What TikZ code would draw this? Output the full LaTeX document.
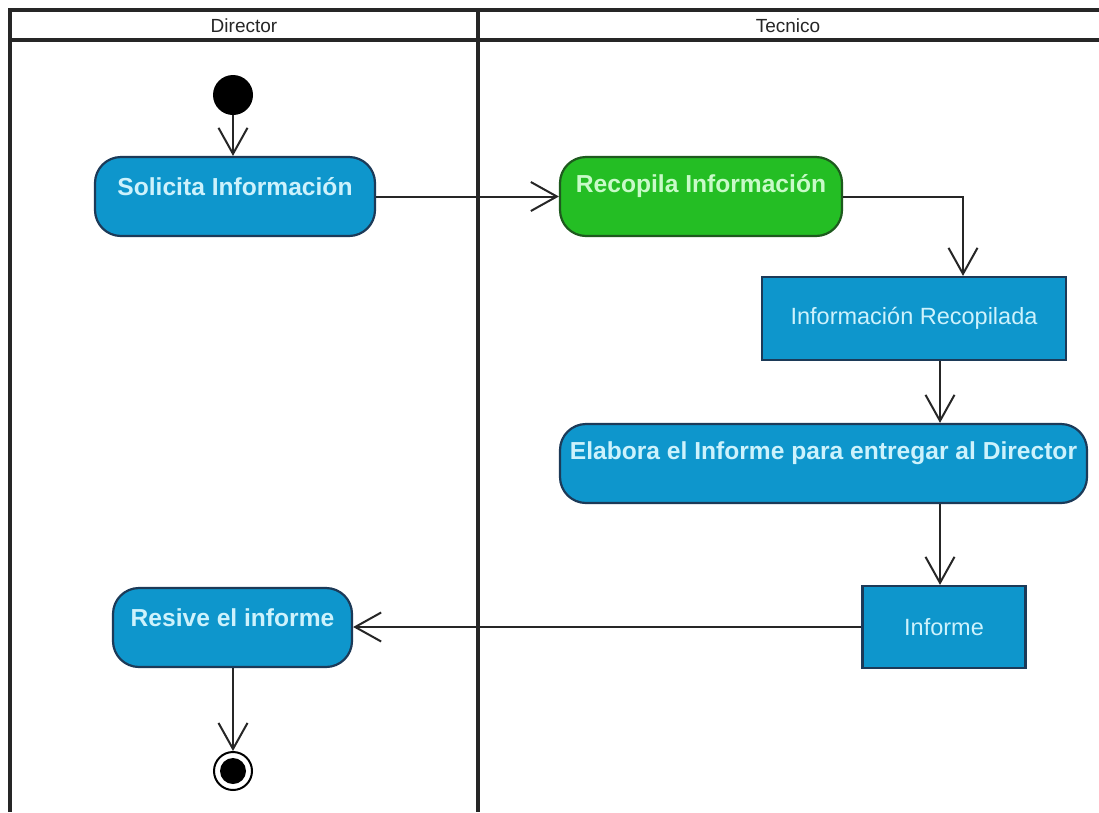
\documentclass[tikz,border=0pt]{standalone}
\usepackage{fontspec}
\setmainfont{Liberation Sans}
\usetikzlibrary{arrows.meta}

\definecolor{actblue}{RGB}{14,150,204}
\definecolor{actgreen}{RGB}{36,190,36}
\definecolor{blueedge}{RGB}{28,58,88}
\definecolor{greenedge}{RGB}{30,90,30}
\definecolor{bluetext}{RGB}{205,242,252}
\definecolor{greentext}{RGB}{200,250,200}

% label set higher inside its box, keeping the natural box size
\newcommand{\liftlabel}[1]{\raisebox{10pt}[\height][\depth]{#1}}

\begin{document}
\begin{tikzpicture}[x=1pt,y=-1pt,
  lane/.style={line width=3.4pt, black!85},
  lanetitle/.style={font=\fontsize{19}{22}\selectfont, text=black!85, inner sep=0pt},
  action/.style={rounded corners=26pt, draw=blueedge, line width=2.2pt, fill=actblue,
    text=bluetext, font=\bfseries\fontsize{24.6}{28}\selectfont, minimum height=79pt, inner sep=0pt},
  greenaction/.style={action, draw=greenedge, fill=actgreen, text=greentext},
  objectbox/.style={rectangle, draw=blueedge, line width=2.2pt, fill=actblue,
    text=bluetext, font=\fontsize{23.5}{28}\selectfont, inner sep=0pt},
  initial/.style={circle, fill=black, minimum size=40pt, inner sep=0pt},
  final/.style={circle, draw=black, line width=2pt, fill=white, minimum size=38pt, inner sep=0pt,
    path picture={\fill[black] (path picture bounding box.center) circle (13pt);}},
  flow/.style={line width=2pt, black!85, -{Straight Barb[length=26pt,width=29pt,line width=2pt]}}
]
\useasboundingbox (0,0) rectangle (1099,812);
\fill[white] (0,0) rectangle (1099,812);

% swimlanes
\draw[lane] (1099,10) -- (10,10) -- (10,812);
\draw[lane] (10,40) -- (1099,40);
\draw[lane] (478,10) -- (478,812);
\node[lanetitle] (dirhead) at (244,26) {Director};
\node[lanetitle] (techead) at (788,26) {Tecnico};

% activities and objects
\node[initial] (start) at (233,95) {};
\node[action, minimum width=280pt] (solicita) at (235,196.5) {\liftlabel{Solicita Información}};
\node[greenaction, minimum width=282pt] (recopila) at (701,196.5) {\liftlabel{Recopila Información}};
\node[objectbox, minimum width=304pt, minimum height=83pt] (infrec) at (914,318.5) {Información Recopilada};
\node[action, minimum width=527pt] (elabora) at (823.5,463.5) {\liftlabel{Elabora el Informe para entregar al Director}};
\node[objectbox, minimum width=163pt, minimum height=82pt] (informe) at (944,627) {Informe};
\node[action, minimum width=239pt] (resive) at (232.5,627.5) {\liftlabel{Resive el informe}};
\node[final] (end) at (233,771) {};

% control flow
\coordinate (bend) at (963,196.5);
\coordinate (col) at (940,0);
\draw[flow] (start) -- (start |- solicita.north);
\draw[flow] (solicita) -- (recopila);
\draw[flow] (recopila.east) -- (bend) -- (bend |- infrec.north);
\draw[flow] (infrec.south -| col) -- (elabora.north -| col);
\draw[flow] (elabora.south -| col) -- (informe.north -| col);
\draw[flow] (informe.west) -- (informe.west -| resive.east);
\draw[flow] (resive.south -| end) -- (end);
\end{tikzpicture}
\end{document}
